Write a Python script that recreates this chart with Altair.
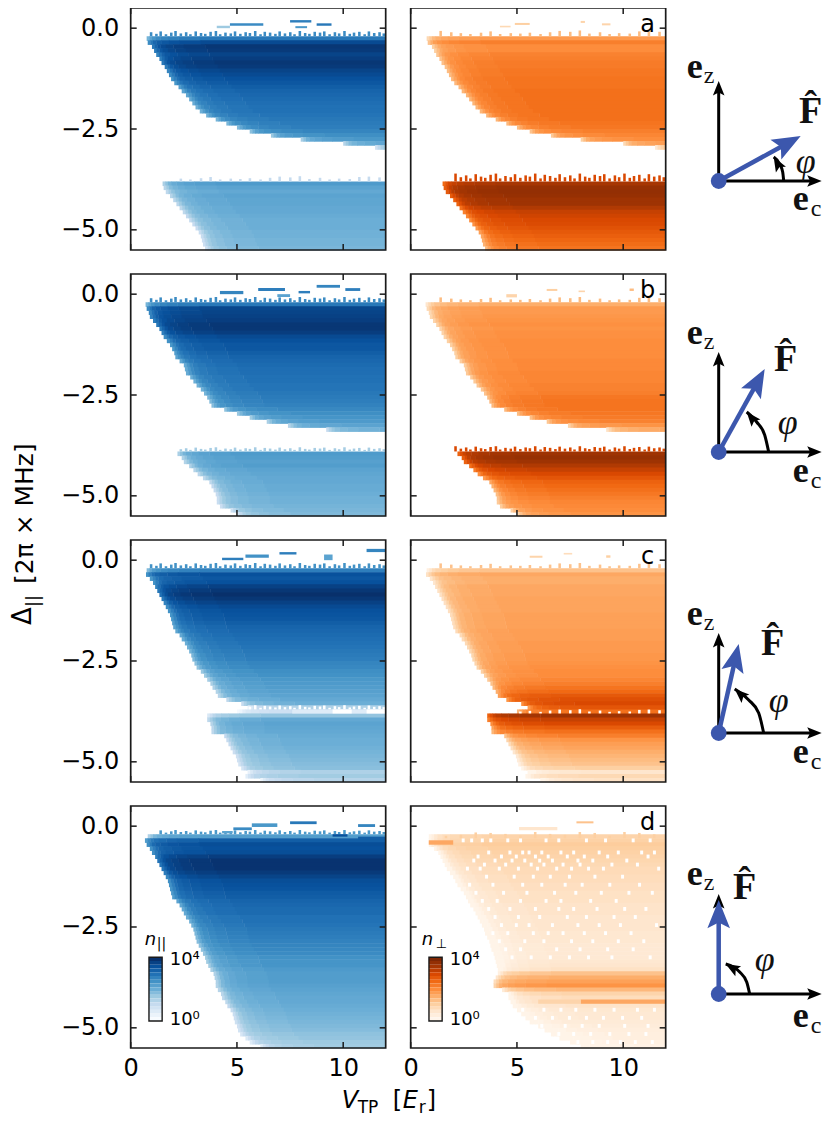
import math

import altair as alt
import pandas as pd

# heatmap rows: top edge of each detuning row (rows are 0.1 tall)
row_top = [-0.2, -0.3, -0.4, -0.5, -0.6, -0.7, -0.8, -0.9, -1.0, -1.1,
           -1.2, -1.3, -1.4, -1.5, -1.6, -1.7, -1.8, -1.9, -2.0, -2.1,
           -2.2, -2.3, -2.4, -2.5, -2.6, -2.7, -2.8, -2.9, -3.0, -3.1,
           -3.2, -3.3, -3.4, -3.5, -3.6, -3.7, -3.8, -3.9, -4.0, -4.1,
           -4.2, -4.3, -4.4, -4.5, -4.6, -4.7, -4.8, -4.9, -5.0, -5.1,
           -5.2, -5.3, -5.4]

# left edge of the signal in V_TP for each row
edge_a = [.75, .8, 1.0, 1.1, 1.2, 1.35, 1.45, 1.6, 1.7, 1.8,
          1.9, 2.05, 2.25, 2.4, 2.6, 2.75, 2.9, 3.05, 3.25, 3.55,
          4.0, 4.5, 5.0, 5.6, 6.6, 8.0, 10.0, 11.5, None, None,
          None, None, None, None, None, None, 1.5, 1.55, 1.65, 1.85,
          2.0, 2.15, 2.3, 2.45, 2.6, 2.75, 2.9, 3.05, 3.2, 3.3,
          3.35, 3.4, 3.5]
edge_b = [.7, .75, .85, .9, 1.05, 1.2, 1.35, 1.45, 1.55, 1.7,
          1.85, 1.95, 2.05, 2.1, 2.3, 2.5, 2.55, 2.6, 2.8, 2.95,
          3.1, 3.3, 3.45, 3.6, 3.7, 3.8, 4.4, 5.0, 5.6, 6.4,
          7.4, 9.2, None, None, None, None, None, 2.2, 2.4, 2.5,
          2.75, 2.95, 3.15, 3.4, 3.7, 3.8, 3.9, 4.0, 4.05, 4.05,
          4.2, 4.7, 5.0]
edge_c = [.75, .72, .9, 1.05, 1.15, 1.25, 1.35, 1.45, 1.55, 1.65,
          1.75, 1.85, 1.9, 1.95, 2.0, 2.1, 2.3, 2.4, 2.55, 2.65,
          2.75, 2.85, 2.9, 3.0, 3.1, 3.3, 3.45, 3.6, 3.75, 3.85,
          4.0, 4.1, 4.5, 5.2, 5.5, 5.0, 3.6, 3.6, 3.75, 3.8,
          3.8, 4.4, 4.5, 4.6, 4.7, 4.8, 4.95, 5.0, 5.06, 5.2,
          5.5, 5.4, 6.1]
edge_d = [.8, .67, .75, .9, 1.0, 1.15, 1.25, 1.35, 1.45, 1.55,
          1.65, 1.75, 1.8, 1.85, 1.9, 1.95, 2.15, 2.3, 2.4, 2.5,
          2.6, 2.75, 2.85, 2.95, 3.0, 3.05, 3.1, 3.2, 3.3, 3.4,
          3.5, 3.55, 3.65, 3.75, 3.9, 3.95, 4.0, 4.0, 4.1, 4.25,
          4.3, 4.45, 4.55, 4.7, 4.8, 4.85, 4.9, 5.0, 5.05, 5.15,
          5.4, 5.6, 6.1]
edge_d_perp = [.85, .85, .85, 1.1, 1.3, 1.4, 1.5, 1.6, 1.7, 1.85,
               2.0, 2.1, 2.2, 2.35, 2.5, 2.6, 2.7, 2.8, 2.95, 3.05,
               3.15, 3.25, 3.35, 3.45, 3.5, 3.6, 3.7, 3.75, 3.8, 3.9,
               3.95, 4.0, 4.05, 4.1, 4.1, 4.0, 3.9, 3.9, 4.3, 4.6,
               4.6, 4.7, 4.8, 5.0, 5.2, 5.4, 5.6, 6.0, 6.3, 6.6,
               7.0, 7.5, 8.0]

# log10(n) per row, one list per panel
par_a = [2.9, 3.6, 3.9, 3.85, 3.7, 3.8, 3.9, 3.85, 3.7, 3.6,
         3.5, 3.4, 3.3, 3.2, 3.15, 3.1, 3.05, 3.0, 3.0, 2.95,
         2.9, 2.85, 2.8, 2.7, 2.55, 2.4, 2.2, 1.8, 0, 0,
         0, 0, 0, 0, 0, 0, 2.35, 2.2, 2.1, 2.2,
         2.15, 2.15, 2.1, 2.1, 2.05, 2.0, 2.0, 2.0, 1.95, 1.95,
         1.9, 1.9, 1.85]
perp_a = [1.8, 2.2, 2.0, 2.0, 2.15, 2.2, 2.25, 2.25, 2.3, 2.3,
          2.35, 2.35, 2.35, 2.4, 2.4, 2.4, 2.4, 2.4, 2.4, 2.4,
          2.4, 2.35, 2.3, 2.2, 2.1, 2.0, 1.8, 1.4, 0, 0,
          0, 0, 0, 0, 0, 0, 3.5, 3.7, 3.75, 3.7,
          3.6, 3.6, 3.4, 3.2, 3.1, 3.0, 2.95, 2.85, 2.75, 2.65,
          2.55, 2.45, 2.35]
par_b = [2.9, 3.65, 3.7, 3.75, 3.8, 3.9, 3.9, 3.8, 3.6, 3.5,
         3.4, 3.4, 3.3, 3.2, 3.15, 3.1, 3.05, 3.05, 3.0, 3.0,
         2.95, 2.95, 2.9, 2.85, 2.8, 2.75, 2.65, 2.55, 2.45, 2.35,
         2.2, 2.0, 0, 0, 0, 0, 0, 2.35, 2.3, 2.25,
         2.3, 2.2, 2.15, 2.1, 2.1, 2.05, 2.05, 2.0, 1.95, 1.95,
         1.9, 1.85, 1.8]
perp_b = [1.5, 1.8, 1.8, 1.85, 1.9, 1.95, 1.9, 1.95, 1.95, 2.0,
          2.0, 2.0, 2.0, 2.0, 2.05, 2.05, 2.05, 2.1, 2.1, 2.1,
          2.15, 2.15, 2.2, 2.3, 2.35, 2.35, 2.35, 2.3, 2.25, 2.15,
          1.9, 1.6, 0, 0, 0, 0, 0, 3.6, 3.7, 3.6,
          3.4, 3.2, 3.0, 2.8, 2.6, 2.5, 2.4, 2.3, 2.2, 2.1,
          2.05, 2.0, 1.9]
par_c = [2.8, 3.5, 3.4, 3.5, 3.75, 3.9, 4.0, 3.9, 3.75, 3.6,
         3.5, 3.45, 3.4, 3.3, 3.2, 3.15, 3.1, 3.05, 3.0, 2.95,
         2.9, 2.85, 2.8, 2.7, 2.65, 2.55, 2.5, 2.4, 2.35, 2.3,
         2.25, 2.2, 2.1, 2.0, 1.3, 0.9, 1.6, 2.1, 2.2, 2.15,
         2.1, 2.05, 2.0, 2.0, 1.95, 1.9, 1.85, 1.8, 1.75, 1.7,
         1.3, 1.45, 1.2]
perp_c = [1.2, 1.6, 1.5, 1.5, 1.6, 1.6, 1.6, 1.65, 1.65, 1.65,
          1.65, 1.7, 1.7, 1.7, 1.7, 1.75, 1.75, 1.75, 1.8, 1.8,
          1.8, 1.85, 1.85, 1.9, 1.95, 2.0, 2.0, 2.1, 2.2, 2.35,
          2.5, 2.75, 2.9, 3.0, 2.8, 2.4, 3.6, 3.2, 3.0, 2.7,
          2.4, 2.2, 1.9, 1.75, 1.65, 1.5, 1.4, 1.3, 1.2, 1.0,
          .5, .8, .6]
par_d = [2.3, 3.3, 3.55, 3.5, 3.55, 3.8, 3.95, 3.95, 3.95, 3.85,
         3.7, 3.55, 3.5, 3.45, 3.35, 3.3, 3.2, 3.15, 3.1, 3.1,
         3.0, 3.0, 2.95, 2.9, 2.85, 2.8, 2.75, 2.7, 2.65, 2.6,
         2.5, 2.45, 2.45, 2.35, 2.3, 2.3, 2.3, 2.25, 2.2, 2.15,
         2.1, 2.1, 2.05, 2.0, 1.95, 1.9, 1.85, 1.8, 1.75, 1.65,
         1.6, 1.5, 1.45]
perp_d = [.9, .95, 1.05, 1.0, .95, .9, .85, .8, .75, .75,
          .7, .7, .65, .65, .6, .6, .6, .55, .55, .55,
          .5, .5, .5, .5, .45, .45, .45, .4, .4, .4,
          .4, .45, .5, .6, 1.2, 1.5, 1.7, 1.9, 1.35, .9,
          .7, .7, .55, .45, .4, .4, .35, .3, .25, .2,
          .2, .15, .1]

# signal gets fainter towards the left edge of each row
fade_from = [0, .12, .25, .4, .65, 1.0, 1.5, 2.5]
fade_to = [.14, .27, .42, .67, 1.02, 1.52, 2.52, 12]
fade_drop = [1.0, .7, .45, .3, .2, .12, .06, 0]

# jagged teeth along the top of the bands
comb_x = [.9, 1.15, 1.35, 1.6, 1.85, 2.05, 2.3, 2.55, 2.75, 3.0, 3.25, 3.45, 3.7, 3.95, 4.15, 4.4,
          4.65, 4.85, 5.1, 5.35, 5.55, 5.8, 6.05, 6.25, 6.5, 6.75, 6.95, 7.2, 7.45, 7.65, 7.9, 8.15,
          8.35, 8.6, 8.85, 9.05, 9.3, 9.55, 9.75, 10.0, 10.25, 10.45, 10.7, 10.95, 11.15, 11.4, 11.65, 11.85]
comb_h = [.1, .06, .12, .05, .09, .13, .07, .1, .05, .12,
          .08, .06, .11, .13, .05, .09, .07, .12, .06, .1,
          .08, .13, .05, .11, .09, .06, .12, .07, .1, .05,
          .13, .08, .06, .11, .09, .12, .05, .1, .07, .13,
          .06, .09, .11, .05, .12, .08, .1, .07]
# base, level, every nth tooth, first V_TP, height factor
combs = {
    "par_a": [(-.2, 2.6, 1, .9, 1), (-3.8, 1.0, 2, 2.2, 1)],
    "perp_a": [(-.2, 1.3, 2, 1.2, 1.1), (-3.8, 3.0, 1, 1.9, 1.5)],
    "par_b": [(-.2, 2.6, 1, .9, 1), (-3.9, 1.4, 1, 2.2, .8)],
    "perp_b": [(-.2, 1.3, 2, 1.2, 1), (-3.9, 3.0, 1, 2.0, 1)],
    "par_c": [(-.2, 2.5, 1, .9, 1), (-3.7, -1, 1, 5.5, .8)],
    "perp_c": [(-.2, 1.2, 2, 1.2, 1), (-3.8, -1, 2, 5.0, .8)],
    "par_d": [(-.2, 2.4, 1, 1.2, .8)],
    "perp_d": [(-.3, 1.0, 3, 1.4, 1.2)],
}
# isolated features: V start, V end, top, bottom, level
blobs = {
    "par_a": [(4.67, 6.24, .12, .06, 2.6), (4.05, 4.67, .06, 0, 1.5), (7.5, 8.5, .2, .14, 2.8),
              (8.75, 9.45, .12, .06, 2.9), (7.75, 8.3, .05, 0, 2.4)],
    "perp_a": [(4.2, 4.7, .06, .02, .8), (4.9, 5.6, .13, .08, 1.0), (8.0, 8.2, .18, .13, .9), (9.0, 9.4, .12, .07, .9)],
    "par_b": [(4.2, 5.3, .08, 0, 2.7), (6.0, 7.26, .15, .08, 2.8), (7.9, 8.44, .08, .02, 2.8),
              (8.75, 9.85, .23, .16, 2.7), (10.1, 10.8, .15, .08, 2.8), (6.9, 7.5, 0, -.07, 2.2)],
    "perp_b": [(6.4, 6.9, .13, .08, 1.0), (7.9, 8.2, .09, .05, .9), (10.3, 10.5, .14, .08, 1.3), (4.5, 5.0, 0, -.08, .9)],
    "par_c": [(4.3, 5.3, .06, 0, 2.8), (5.4, 6.5, .14, .06, 2.5), (7.0, 7.8, .2, .14, 2.8),
              (11.1, 12, .28, .2, 2.7), (9.1, 9.5, .14, 0, 2.2), (7.6, 12, -3.7, -3.8, .5),
              (9.5, 10.4, -3.7, -3.8, -1), (11.1, 12, -3.7, -3.8, -1)],
    "perp_c": [(5.6, 6.2, .11, .06, .9), (7.2, 7.6, .18, .14, .7), (9.2, 9.4, .12, .06, 1.0)],
    "par_d": [(4.83, 5.7, -.03, -.1, 2.6), (5.7, 6.9, .07, -.02, 2.4), (7.5, 8.75, .12, .05, 2.9),
              (10.7, 11.5, .05, -.02, 2.7), (4.3, 4.8, -.12, -.18, 2.2), (9.5, 10.2, -.2, -.26, 3.5),
              (10.7, 12, -.26, -.32, 3.3)],
    "perp_d": [(7.8, 8.6, .12, .07, 1.2), (5.1, 6.9, -.02, -.1, .5), (8.0, 12, -4.3, -4.4, 1.6),
               (6.0, 8.0, -4.3, -4.4, .9), (.85, 2.0, -.35, -.46, 1.6)],
}
# empty cells in the noisy perpendicular panel d: row -> V_TP positions
holes_perp_d = {
    -0.3: [2.4, 2.8, 3.3, 3.7, 4.5, 5.1, 6.3, 6.9, 8.2, 9.1, 10.4, 11.2],
    -0.6: [3.6, 4.6, 5.2, 5.5, 6.1, 7.0, 7.6, 8.8, 9.7, 10.8, 11.4],
    -0.7: [3.1, 4.2, 4.9, 5.8, 6.4, 7.3, 8.1, 9.2, 11.1],
    -0.8: [2.9, 3.9, 4.7, 5.3, 6.0, 6.6, 7.8, 8.5, 10.1],
    -0.9: [3.4, 4.4, 5.6, 6.2, 7.1, 7.9, 9.4, 10.6],
    -1.0: [2.6, 3.2, 4.1, 5.0, 5.9, 6.8, 7.5, 8.3, 9.0, 11.6],
    -1.2: [3.5, 4.8, 5.7, 6.5, 7.4, 8.6, 9.9],
    -1.4: [2.7, 3.8, 5.2, 6.1, 7.2, 8.0, 9.3, 10.7],
    -1.6: [3.0, 4.3, 5.4, 6.7, 7.7, 8.9, 10.2, 11.3],
    -1.8: [3.3, 4.0, 5.1, 6.3, 7.0, 8.4, 9.6],
    -2.0: [3.6, 4.6, 5.8, 6.9, 7.6, 8.7, 10.0, 11.0],
    -2.2: [3.9, 5.0, 6.0, 7.3, 8.2, 9.5, 10.5],
    -2.4: [4.2, 4.9, 5.5, 6.6, 7.8, 8.8, 9.8, 11.5],
    -2.6: [3.8, 4.5, 5.7, 6.4, 7.1, 8.1, 9.1, 10.3],
    -2.8: [4.1, 5.3, 6.2, 7.5, 8.5, 9.7, 10.9],
    -3.0: [4.4, 5.1, 6.8, 7.9, 9.2, 10.4],
    -3.2: [4.7, 5.6, 6.5, 7.4, 8.3, 9.4, 11.2],
    -4.5: [5.2, 6.2, 7.0, 7.7, 8.6, 9.5, 10.6, 11.4],
    -4.7: [5.8, 6.6, 7.4, 8.2, 9.0, 9.9, 10.8],
    -4.9: [5.4, 6.1, 7.2, 8.0, 8.8, 10.0, 11.1],
    -5.1: [6.9, 7.6, 8.4, 9.3, 10.2, 11.0],
    -5.3: [7.8, 8.5, 9.2, 9.8, 10.5, 11.3],
}

x_ticks = [0, 5, 10]
y_ticks = [0.0, -2.5, -5.0]
panel_letters = ["a", "b", "c", "d"]
cbar_levels = [4.0, 3.75, 3.5, 3.25, 3.0, 2.75, 2.5, 2.25, 2.0, 1.75, 1.5, 1.25, 1.0, .75, .5, .25, 0.0]

# diagrams, in px around the origin dot (y up)
f_tip_x = [82, 46, 20, 0]
f_tip_y = [45, 83, 89, 94]
origin_y = [173, 178, 193, 188]
arc_x = [[65, 64, 61, 55], [50, 46, 38, 28], [45, 40, 30, 16], [31, 28, 21, 7]]
arc_y = [[0, 9, 17, 24], [0, 17, 30, 40], [0, 20, 33, 44], [0, 12, 22, 30]]
arc_head = [330, 320, 312, 300]
f_text_x = [92, 67, 54, 26]
f_text_y = [58, 81, 78, 95]
phi_x = [87, 69, 60, 46]
phi_y = [19, 29, 32, 34]
ez_y = [103, 108, 108, 109]
ec_x = [74, 74, 74, 74]
ec_y = [-29, -30, -30, -33]

W, H = 255, 242
DIAG_W = 130
INK = "#1a1a1a"
BLUE = "#3c57ad"
FONT = "DejaVu Sans"
SERIF = "Liberation Serif"
HEAD = "M0,0 L0.8,2 L0,1.6 L-0.8,2 Z"

LEVEL_DOMAIN = [-1, -0.001, 0, .5, 1, 1.5, 2, 2.5, 3, 3.5, 4]
blues = ["#ffffff", "#ffffff", "#f7fbff", "#deebf7", "#c6dbef", "#9ecae1", "#6baed6", "#4292c6", "#2171b5", "#08519c", "#08306b"]
oranges = ["#ffffff", "#ffffff", "#fff5eb", "#fee6ce", "#fdd0a2", "#fdae6b", "#fd8d3c", "#f16913", "#d94801", "#a63603", "#7f2704"]


def build_cells(name, edge, level, holes=None):
    cells = []
    for top, e, lv in zip(row_top, edge, level, strict=True):
        if e is None:
            continue
        for a, b, drop in zip(fade_from, fade_to, fade_drop, strict=True):
            if e + a < 12:
                cells.append(dict(v0=e + a, v1=min(12, e + b), d0=top, d1=top - 0.115, level=max(lv - drop, 0.05)))
    for base, lv, step, first, factor in combs[name]:
        for x, h in zip(comb_x[::step], comb_h[::step], strict=True):
            if x >= first:
                cells.append(dict(v0=x, v1=x + .12, d0=base + h * factor, d1=base, level=lv))
    for v0, v1, d0, d1, lv in blobs[name]:
        cells.append(dict(v0=v0, v1=v1, d0=d0, d1=d1, level=lv))
    for row, xs in (holes or {}).items():
        for x in xs:
            cells.append(dict(v0=x, v1=x + .14, d0=row - .005, d1=row - .1, level=-1))
    return pd.DataFrame(cells)


def label(text, x, y, size, style="normal", angle=0, align="left", font=FONT, weight="normal"):
    return alt.Chart(alt.Data(values=[{}])).mark_text(
        text=text, fontSize=size, fontStyle=style, angle=angle, align=align,
        baseline="alphabetic", font=font, fontWeight=weight, color="black",
    ).encode(x=alt.value(x), y=alt.value(y))


def heat_panel(row, col, name, edge, level, colors, holes=None):
    x_axis = None
    y_axis = None
    if row == 3:
        x_axis = alt.Axis(values=x_ticks, format="d", title=None, grid=False, domain=False, tickSize=0,
                          labelFontSize=24, labelFont=FONT, labelColor="black", labelPadding=9, labelFlush=False)
    if col == 0:
        y_axis = alt.Axis(values=y_ticks, format=".1f", title=None, grid=False, domain=False, tickSize=0,
                          labelFontSize=24, labelFont=FONT, labelColor="black", labelPadding=12, labelFlush=False)
    x_sc = alt.Scale(domain=[0, 12], nice=False, zero=False)
    y_sc = alt.Scale(domain=[-5.5, .5], nice=False, zero=False)
    color_sc = alt.Scale(domain=LEVEL_DOMAIN, range=colors, interpolate="rgb", clamp=True)

    def xe(field):
        return alt.X(field, scale=x_sc, axis=x_axis)

    def ye(field):
        return alt.Y(field, scale=y_sc, axis=y_axis)

    heat = alt.Chart(build_cells(name, edge, level, holes)).mark_rect().encode(
        x=xe("v0:Q"), x2="v1:Q", y=ye("d0:Q"), y2="d1:Q",
        color=alt.Color("level:Q", scale=color_sc, legend=None),
    )
    layers = [heat]

    xt = pd.DataFrame({"v": x_ticks})
    yt = pd.DataFrame({"d": y_ticks})
    tick = dict(color=INK, strokeWidth=1.5)
    for y0, y1 in [(0, 6), (H - 6, H)]:
        layers.append(alt.Chart(xt).mark_rule(**tick).encode(x=xe("v:Q"), y=alt.value(y0), y2=alt.value(y1)))
    for x0, x1 in [(0, 6), (W - 6, W)]:
        layers.append(alt.Chart(yt).mark_rule(**tick).encode(y=ye("d:Q"), x=alt.value(x0), x2=alt.value(x1)))

    if col == 1:
        layers.append(alt.Chart(pd.DataFrame({"v": [11.15], "d": [-.1], "t": [panel_letters[row]]})).mark_text(
            fontSize=24, font=FONT, baseline="alphabetic", align="center", color="black"
        ).encode(x=xe("v:Q"), y=ye("d:Q"), text="t:N"))

    if row == 3:
        # colour bar inside the panel
        cb = pd.DataFrame({"level": cbar_levels})
        step = 1.49 / (len(cbar_levels) - 1)
        cb["d0"] = [-3.25 - i * step for i in range(len(cbar_levels))]
        cb["d1"] = cb["d0"] - step
        cb["v0"] = .86
        cb["v1"] = 1.48
        layers.append(alt.Chart(cb).mark_rect().encode(
            x=xe("v0:Q"), x2="v1:Q", y=ye("d0:Q"), y2="d1:Q",
            color=alt.Color("level:Q", scale=color_sc, legend=None),
        ))
        box = pd.DataFrame({"v0": [.86], "v1": [1.48], "d0": [-3.25], "d1": [-4.83]})
        layers.append(alt.Chart(box).mark_rect(fillOpacity=0, stroke=INK, strokeWidth=1.4).encode(
            x=xe("v0:Q"), x2="v1:Q", y=ye("d0:Q"), y2="d1:Q"))
        layers.append(label("10⁴", 39, 159, 18))
        layers.append(label("10⁰", 39, 219, 18))
        if col == 0:
            layers.append(label("n", 14, 139, 18, style="italic"))
            layers.append(label("||", 26, 142, 14))
        else:
            layers.append(label("n", 11, 139, 18, style="italic"))
            layers.append(label("⊥", 25, 142, 13))

    # y label pieces hang off panel b
    if row == 1 and col == 0:
        layers.append(label("Δ", -100, 351, 26, angle=270))
        layers.append(label("||", -92, 333, 18, angle=270))
        layers.append(label("[2π × MHz]", -98, 310, 25, angle=270))
    # x label pieces hang off the lower left panel
    if row == 3 and col == 0:
        layers.append(label("V", 211, 302, 24, style="italic"))
        layers.append(label("TP", 227, 307, 17))
        layers.append(label("[", 262, 302, 24))
        layers.append(label("E", 272, 302, 24, style="italic"))
        layers.append(label("r", 288, 307, 17))
        layers.append(label("]", 296, 302, 24))

    frame = pd.DataFrame({"v0": [0], "v1": [12], "d0": [.5], "d1": [-5.5]})
    layers.append(alt.Chart(frame).mark_rect(fillOpacity=0, stroke=INK, strokeWidth=1.7).encode(
        x=xe("v0:Q"), x2="v1:Q", y=ye("d0:Q"), y2="d1:Q"))
    return alt.layer(*layers).properties(width=W, height=H)


def diagram(i):
    oy = origin_y[i]
    x_sc = alt.Scale(domain=[-28, DIAG_W - 28], nice=False, zero=False)
    y_sc = alt.Scale(domain=[oy - H, oy], nice=False, zero=False)
    enc = dict(x=alt.X("x:Q", scale=x_sc, axis=None), y=alt.Y("y:Q", scale=y_sc, axis=None))
    seg = dict(x=alt.X("x:Q", scale=x_sc, axis=None), y=alt.Y("y:Q", scale=y_sc, axis=None), x2="x2:Q", y2="y2:Q")

    tip_z = 100
    tip_c = 103
    axes = pd.DataFrame({"x": [0, 0], "y": [0, 0], "x2": [0, tip_c - 6], "y2": [tip_z - 6, 0]})
    heads = pd.DataFrame({"x": [0, tip_c, arc_x[i][-1]], "y": [tip_z, 0, arc_y[i][-1]], "a": [0, 90, arc_head[i]]})
    arc = pd.DataFrame({"x": arc_x[i], "y": arc_y[i], "o": list(range(len(arc_x[i])))})
    fx, fy = f_tip_x[i], f_tip_y[i]
    shaft = pd.DataFrame({"x": [0], "y": [0], "x2": [fx * .8], "y2": [fy * .8]})
    f_head = pd.DataFrame({"x": [fx], "y": [fy], "a": [math.degrees(math.atan2(fx, fy))]})
    dot = pd.DataFrame({"x": [0], "y": [0]})

    def word(text, x, y, size, font=SERIF, weight="normal", style="normal", align="left", baseline="alphabetic"):
        return alt.Chart(pd.DataFrame({"x": [x], "y": [y], "t": [text]})).mark_text(
            fontSize=size, font=font, fontWeight=weight, fontStyle=style, align=align, baseline=baseline, color="#111111"
        ).encode(text="t:N", **enc)

    return alt.layer(
        alt.Chart(axes).mark_rule(color="black", strokeWidth=3).encode(**seg),
        alt.Chart(arc).mark_line(color="black", strokeWidth=3, interpolate="monotone").encode(
            order="o:O", **enc),
        alt.Chart(heads).mark_point(shape=HEAD, filled=True, opacity=1, color="black", size=210).encode(
            angle=alt.Angle("a:Q", scale=None), **enc),
        alt.Chart(shaft).mark_rule(color=BLUE, strokeWidth=4.5).encode(**seg),
        alt.Chart(f_head).mark_point(shape=HEAD, filled=True, opacity=1, color=BLUE, size=800).encode(
            angle=alt.Angle("a:Q", scale=None), **enc),
        alt.Chart(dot).mark_point(shape="circle", filled=True, opacity=1, color=BLUE, size=250).encode(**enc),
        word("e", -32, ez_y[i], 36, weight="bold"),
        word("z", -15, ez_y[i] - 5, 24),
        word("e", ec_x[i], ec_y[i], 36, weight="bold"),
        word("c", ec_x[i] + 18, ec_y[i] - 6, 24),
        word("F\u0302", f_text_x[i], f_text_y[i], 38, weight="bold", align="center"),
        word("φ", phi_x[i], phi_y[i], 36, style="italic", align="center", baseline="middle"),
    ).properties(width=DIAG_W, height=H)


panels = [
    heat_panel(0, 0, "par_a", edge_a, par_a, blues), heat_panel(0, 1, "perp_a", edge_a, perp_a, oranges), diagram(0),
    heat_panel(1, 0, "par_b", edge_b, par_b, blues), heat_panel(1, 1, "perp_b", edge_b, perp_b, oranges), diagram(1),
    heat_panel(2, 0, "par_c", edge_c, par_c, blues), heat_panel(2, 1, "perp_c", edge_c, perp_c, oranges), diagram(2),
    heat_panel(3, 0, "par_d", edge_d, par_d, blues),
    heat_panel(3, 1, "perp_d", edge_d_perp, perp_d, oranges, holes_perp_d), diagram(3),
]

# fixed canvas: padding carries the whole size so nothing spills past the page
chart = alt.concat(
    *panels, columns=3, bounds="flush", spacing=alt.RowColnumber(row=24, column=25),
    autosize=alt.AutoSizeParams(type="none"),
    padding={"left": 122.7, "top": 0, "right": 692, "bottom": 1112},
).resolve_scale(color="independent").configure_view(stroke=None)

chart.save("out.html", embed_options={"renderer": "svg", "actions": False})
